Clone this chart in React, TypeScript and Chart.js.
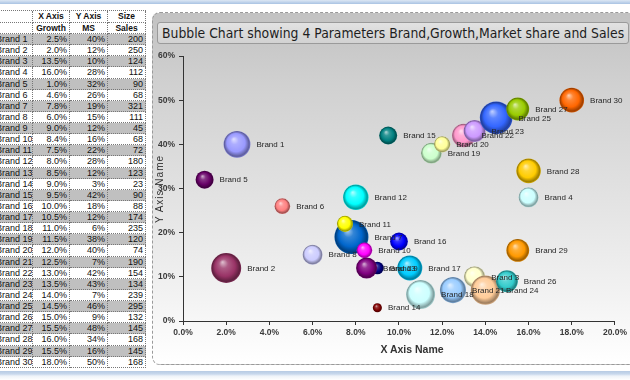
import React, { useEffect, useRef } from 'react';
import { Chart, registerables } from 'chart.js';

Chart.register(...registerables);

const brands = [
  'Brand 1', 'Brand 2', 'Brand 3', 'Brand 4', 'Brand 5', 'Brand 6', 'Brand 7', 'Brand 8', 'Brand 9', 'Brand 10',
  'Brand 11', 'Brand 12', 'Brand 13', 'Brand 14', 'Brand 15', 'Brand 16', 'Brand 17', 'Brand 18', 'Brand 19', 'Brand 20',
  'Brand 21', 'Brand 22', 'Brand 23', 'Brand 24', 'Brand 25', 'Brand 26', 'Brand 27', 'Brand 28', 'Brand 29', 'Brand 30',
];
const growth = [2.5, 2.0, 13.5, 16.0, 1.0, 4.6, 7.8, 6.0, 9.0, 8.4, 7.5, 8.0, 8.5, 9.0, 9.5, 10.0, 10.5, 11.0, 11.5, 12.0, 12.5, 13.0, 13.5, 14.0, 14.5, 15.0, 15.5, 16.0, 15.5, 18.0];
const marketShare = [40, 12, 10, 28, 32, 26, 19, 15, 12, 16, 22, 28, 12, 3, 42, 18, 12, 6, 38, 40, 7, 42, 43, 7, 46, 9, 48, 34, 16, 50];
const sales = [200, 250, 124, 112, 90, 68, 321, 111, 45, 68, 72, 180, 123, 23, 90, 88, 174, 235, 120, 74, 190, 154, 134, 239, 295, 132, 145, 168, 145, 168];
const colors = [
  '#9999ff', '#993366', '#ffffcc', '#ccffff', '#660066', '#ff8080', '#0066cc', '#ccccff', '#000080', '#ff00ff',
  '#ffff00', '#00ffff', '#800080', '#800000', '#008080', '#0000ff', '#00ccff', '#ccffff', '#ccffcc', '#ffff99',
  '#99ccff', '#ff99cc', '#cc99ff', '#ffcc99', '#3366ff', '#33cccc', '#99cc00', '#ffcc00', '#ff9900', '#ff6600',
];
const tableHeader1 = ['', 'X Axis', 'Y Axis', 'Size'];
const tableHeader2 = ['', 'Growth', 'MS', 'Sales'];
const chartTitle = 'Bubble Chart showing 4 Parameters Brand,Growth,Market share and Sales';
const xAxisTitle = 'X Axis Name';
const yAxisTitle = 'Y Axis Name';

const MAX_RADIUS = 17;

function hexToRgb(h: string) {
  const n = parseInt(h.slice(1), 16);
  return [(n >> 16) & 255, (n >> 8) & 255, n & 255];
}
function mix(h: string, target: number, t: number) {
  const [r, g, b] = hexToRgb(h);
  const f = (c: number) => Math.round(c + (target - c) * t);
  return `rgb(${f(r)},${f(g)},${f(b)})`;
}

const colW = [40, 37, 38, 38];
const cellFont = '"Liberation Sans", Arial, sans-serif';

function Cell({ text, w, h, align, bold, bg }: any) {
  return (
    <div
      style={{
        width: w,
        height: h,
        boxSizing: 'border-box',
        borderRight: '1px dotted #777',
        borderBottom: '1px dotted #777',
        background: bg,
        fontFamily: cellFont,
        fontSize: bold ? 8.5 : 9,
        fontWeight: bold ? 'bold' : 'normal',
        color: '#111',
        textAlign: align,
        lineHeight: `${h - 1}px`,
        paddingLeft: align === 'left' ? 3 : 0,
        paddingRight: align === 'right' ? 2 : 0,
        whiteSpace: 'nowrap',
        overflow: 'hidden',
        flex: 'none',
      }}
    >
      {text}
    </div>
  );
}

export default function App() {
  const ref = useRef<HTMLCanvasElement>(null);

  useEffect(() => {
    const maxSales = Math.max(...sales);
    const data = brands.map((_, i) => ({
      x: growth[i],
      y: marketShare[i],
      r: MAX_RADIUS * Math.sqrt(sales[i] / maxSales),
    }));

    const labelPlugin = {
      id: 'brandLabels',
      afterDatasetsDraw(chart: any) {
        const ctx = chart.ctx;
        const meta = chart.getDatasetMeta(0);
        ctx.save();
        ctx.font = '8px "Liberation Sans Narrow", "Liberation Sans", Arial, sans-serif';
        ctx.fillStyle = '#262626';
        ctx.textBaseline = 'middle';
        ctx.textAlign = 'left';
        meta.data.forEach((el: any, i: number) => {
          const r = el.options.radius;
          ctx.fillText(brands[i], el.x + r + 6, el.y + 0.5);
        });
        ctx.restore();
      },
    };

    const sphere = (c: any) => {
      if (c.type !== 'data') return colors[0];
      const i = c.dataIndex;
      const base = colors[i];
      const chart = c.chart;
      const xs = chart.scales && chart.scales.x;
      const ys = chart.scales && chart.scales.y;
      if (!xs || !ys || !c.raw) return base;
      const cx = xs.getPixelForValue(c.raw.x);
      const cy = ys.getPixelForValue(c.raw.y);
      const r = c.raw.r;
      if (!isFinite(cx) || !isFinite(cy) || !isFinite(r) || r <= 0) return base;
      const g = chart.ctx.createRadialGradient(cx - r * 0.25, cy - r * 0.4, 0, cx, cy, r);
      g.addColorStop(0, mix(base, 255, 0.7));
      g.addColorStop(0.3, mix(base, 255, 0.2));
      g.addColorStop(0.68, base);
      g.addColorStop(0.92, mix(base, 0, 0.38));
      g.addColorStop(1, mix(base, 0, 0.18));
      return g;
    };

    const tickFont = { family: '"Liberation Sans", Arial, sans-serif', size: 8.5, weight: 'bold' as const };

    const chart = new Chart(ref.current as HTMLCanvasElement, {
      type: 'bubble',
      data: {
        datasets: [
          {
            data,
            backgroundColor: sphere as any,
            borderWidth: 0,
            clip: false as any,
          },
        ],
      },
      options: {
        animation: false,
        responsive: false,
        maintainAspectRatio: false,
        layout: { autoPadding: false, padding: { left: 0, right: 12, top: 16, bottom: 0 } },
        plugins: { legend: { display: false }, tooltip: { enabled: false } },
        events: [],
        scales: {
          x: {
            type: 'linear',
            min: 0,
            max: 20,
            ticks: {
              stepSize: 2,
              color: '#3a3a3a',
              font: tickFont,
              padding: 3,
              maxRotation: 0,
              callback: (v: any) => Number(v).toFixed(1) + '%',
            },
            grid: { drawOnChartArea: false, drawTicks: true, tickLength: 4, color: '#333' },
            border: { display: true, color: '#333', width: 1 },
            afterFit: (s: any) => {
              s.height = 49;
            },
          },
          y: {
            type: 'linear',
            min: 0,
            max: 60,
            ticks: {
              stepSize: 10,
              color: '#3a3a3a',
              font: tickFont,
              padding: 4,
              callback: (v: any) => v + '%',
            },
            grid: { drawOnChartArea: false, drawTicks: true, tickLength: 4, color: '#333' },
            border: { display: true, color: '#333', width: 1 },
            afterFit: (s: any) => {
              s.width = 33;
            },
          },
        },
      },
      plugins: [labelPlugin],
    });
    return () => chart.destroy();
  }, []);

  const rowH = 334 / 30;

  return (
    <div style={{ position: 'fixed', left: 0, top: 0, width: 630, height: 380, overflow: 'hidden', background: '#fff' }}>
      <div style={{ position: 'absolute', left: 0, top: 0, width: 630, height: 4, background: 'linear-gradient(#dce7f4, #a9c3e3)' }} />
      <div style={{ position: 'absolute', left: -8, top: 10, borderTop: '1px dotted #777', borderLeft: '1px dotted #777' }}>
        <div style={{ display: 'flex', height: 12 }}>
          {tableHeader1.map((t, j) => (
            <Cell key={j} text={t} w={colW[j]} h={12} align="center" bold bg="#fff" />
          ))}
        </div>
        <div style={{ display: 'flex', height: 11 }}>
          {tableHeader2.map((t, j) => (
            <Cell key={j} text={t} w={colW[j]} h={11} align="center" bold bg="#fff" />
          ))}
        </div>
        {brands.map((b, i) => {
          const bg = i % 2 === 0 ? '#c0c0c0' : '#ffffff';
          return (
            <div key={b} style={{ display: 'flex', height: rowH }}>
              <Cell text={b} w={colW[0]} h={rowH} align="left" bg={bg} />
              <Cell text={growth[i].toFixed(1) + '%'} w={colW[1]} h={rowH} align="right" bg={bg} />
              <Cell text={marketShare[i] + '%'} w={colW[2]} h={rowH} align="right" bg={bg} />
              <Cell text={String(sales[i])} w={colW[3]} h={rowH} align="right" bg={bg} />
            </div>
          );
        })}
      </div>
      <div
        style={{
          position: 'absolute',
          left: 152,
          top: 12,
          width: 500,
          height: 353,
          boxSizing: 'border-box',
          border: '1px dashed #999',
          borderRadius: 8,
          background: 'linear-gradient(to bottom, #c2c2c2 0%, #d0d0d0 20%, #f2f2f2 80%, #ffffff 100%)',
        }}
      />
      <div
        style={{
          position: 'absolute',
          left: 157,
          top: 22,
          width: 472,
          height: 22,
          boxSizing: 'border-box',
          border: '1px solid #9a9a9a',
          borderRadius: 3,
          background: 'linear-gradient(#e2e2e2, #d2d2d2)',
          fontFamily: '"DejaVu Sans Condensed", "DejaVu Sans", sans-serif',
          fontSize: 13.8,
          lineHeight: '20px',
          color: '#1e1e1e',
          paddingLeft: 4,
          whiteSpace: 'nowrap',
          overflow: 'hidden',
        }}
      >
        {chartTitle}
      </div>
      <div style={{ position: 'absolute', left: 150, top: 40, width: 480, height: 330 }}>
        <canvas ref={ref} width={480} height={330} style={{ width: 480, height: 330, display: 'block' }} />
      </div>
      <div
        style={{
          position: 'absolute',
          left: 362,
          top: 343,
          width: 100,
          textAlign: 'center',
          fontFamily: '"Liberation Sans Narrow", "Liberation Sans", Arial, sans-serif',
          fontWeight: 'bold',
          fontSize: 10.5,
          lineHeight: '12px',
          color: '#333',
        }}
      >
        {xAxisTitle}
      </div>
      <div
        style={{
          position: 'absolute',
          left: 110,
          top: 183,
          width: 100,
          textAlign: 'center',
          transform: 'rotate(-90deg)',
          fontFamily: '"Liberation Sans", Arial, sans-serif',
          fontSize: 10,
          letterSpacing: 1,
          lineHeight: '12px',
          color: '#333',
        }}
      >
        {yAxisTitle}
      </div>
      <div style={{ position: 'absolute', left: 0, top: 371, width: 630, height: 9, background: 'linear-gradient(#b7cbe4 0px, #c8d8ec 3px, #eef3f9 5px, #ffffff 9px)' }} />
    </div>
  );
}
